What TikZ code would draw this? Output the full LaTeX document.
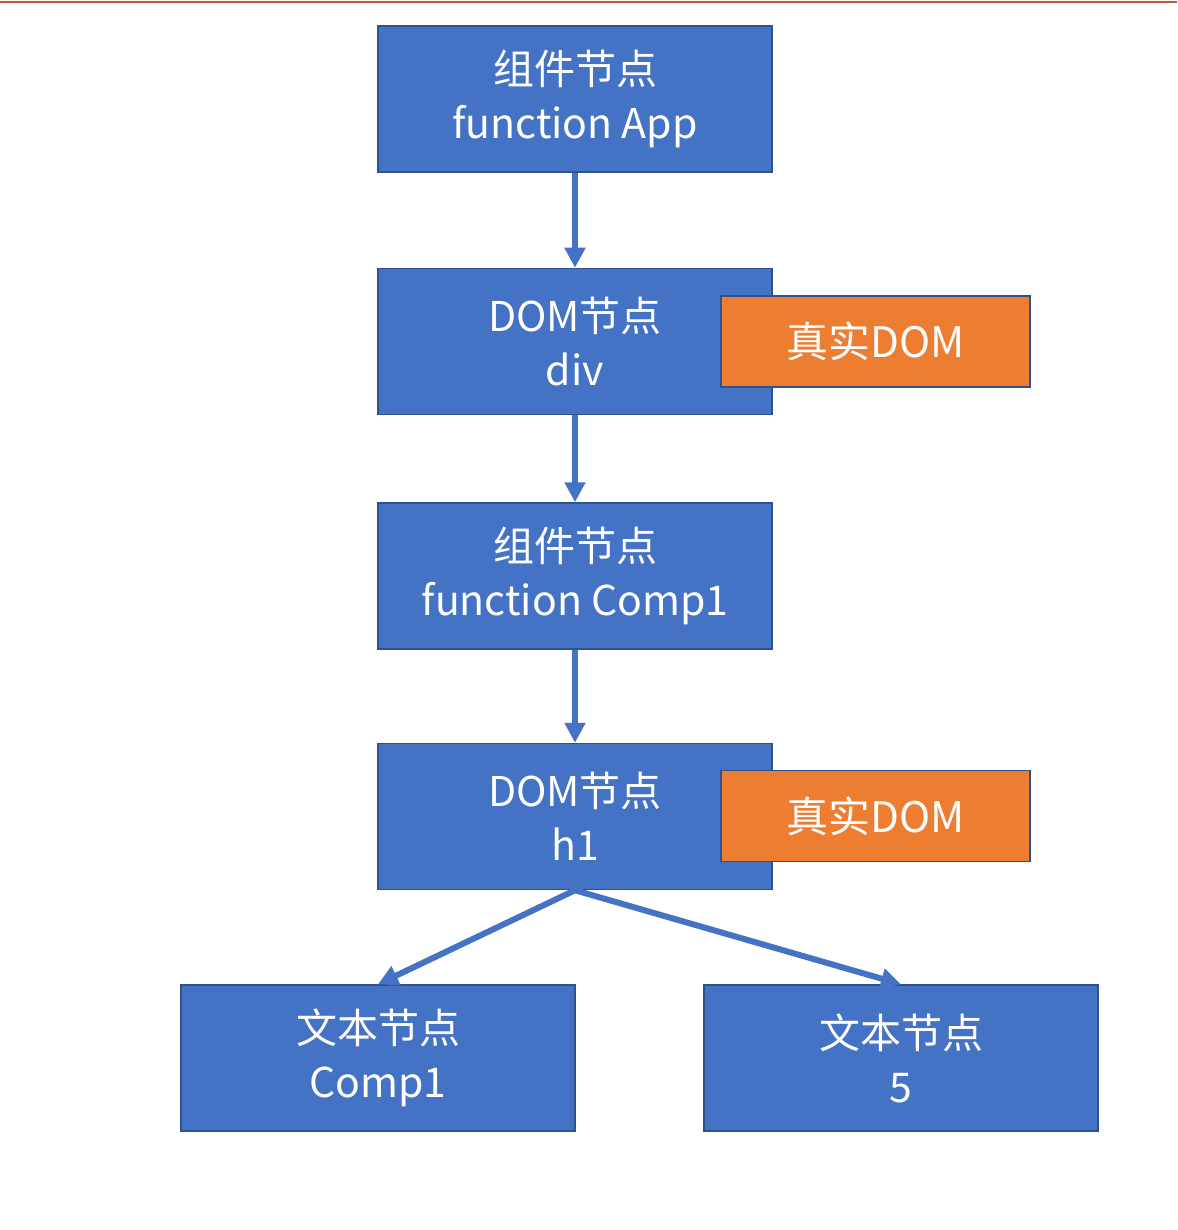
\documentclass[tikz,border=0pt]{standalone}
\usepackage{fontspec}
\newfontfamily\cjk{Noto Sans CJK SC}
\usetikzlibrary{arrows.meta}
\usetikzlibrary{positioning}
\definecolor{boxblue}{HTML}{4472C4}
\definecolor{edgeblue}{HTML}{2F528F}
\definecolor{tagorange}{HTML}{ED7D31}
\definecolor{rulered}{HTML}{C55A3A}
\tikzset{
	vnode/.style={rectangle, draw=edgeblue, fill=boxblue, line width=1.5pt,
		minimum width=394pt, minimum height=146pt, text=white, align=center,
		font=\cjk\fontsize{41}{54}\selectfont},
	realtag/.style={rectangle, draw=edgeblue, fill=tagorange, line width=1.5pt,
		minimum width=309pt, minimum height=91pt, text=white,
		font=\cjk\fontsize{42}{54}\selectfont},
	link/.style={draw=boxblue, line width=6pt, -{Triangle[width=20pt,length=20pt]}}
}
\begin{document}
\begin{tikzpicture}[x=1pt, y=-1pt]
	% page 1177 x 1230, y grows downwards
	\useasboundingbox (0, 0) rectangle (1177, 1230);
	\draw[rulered, line width=1.5pt] (0, 2) -- (1177, 2);
	% tree of nodes
	\node[vnode] (app) at (575, 99) {组件节点\\function App};
	\node[vnode] (div) at (575, 341.5) {DOM节点\\div};
	\node[vnode] (comp) at (575, 576) {组件节点\\function Comp1};
	\node[vnode] (hone) at (575, 816.5) {DOM节点\\h1};
	\node[vnode] (txtcomp) at (378, 1058) {文本节点\\Comp1};
	\node[vnode] (txtfive) at (901, 1058) {文本节点\\5};
	% real DOM tags
	\node[realtag] (divreal) at (875.5, 341.5) {真实DOM};
	\node[realtag] (honereal) at (875.5, 816) {真实DOM};
	% links
	\draw[link] (app) -- (div);
	\draw[link] (div) -- (comp);
	\draw[link] (comp) -- (hone);
	\draw[link] (hone.south) -- (txtcomp.north);
	\draw[link] (hone.south) -- (txtfive.north);
\end{tikzpicture}
\end{document}
